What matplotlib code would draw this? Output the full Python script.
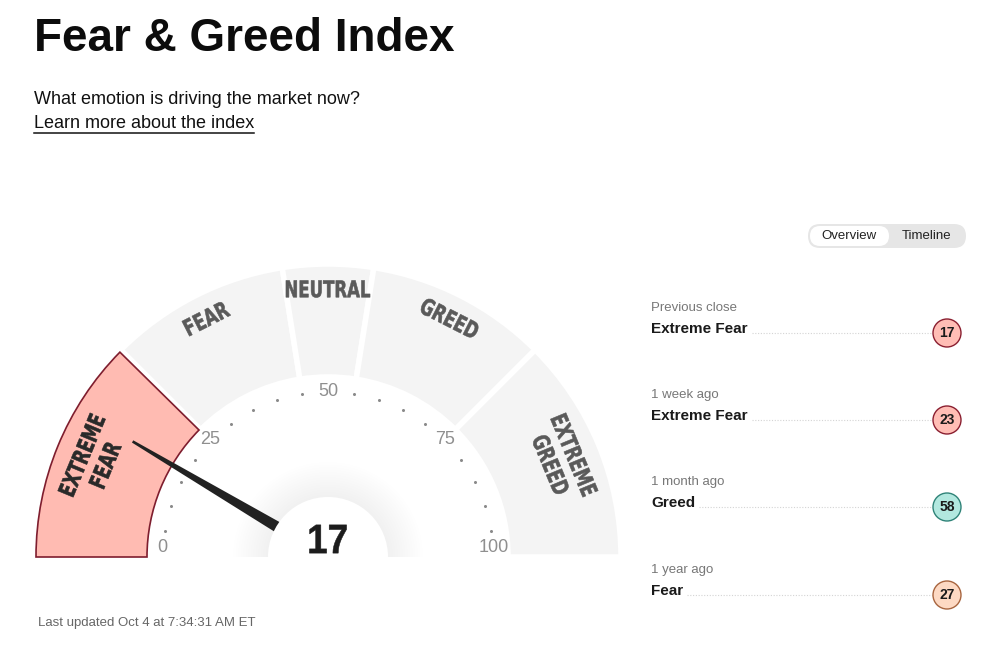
import numpy as np
import matplotlib.pyplot as plt
from matplotlib.patches import Wedge, Circle, Polygon, FancyBboxPatch, PathPatch
from matplotlib.textpath import TextPath
from matplotlib.font_manager import FontProperties
from matplotlib.transforms import Affine2D

# gauge zones
zones = ["EXTREME\nFEAR", "FEAR", "NEUTRAL", "GREED", "EXTREME\nGREED"]
bounds = [0, 25, 45, 55, 75, 100]
current = 17
scale_ticks = [0, 25, 50, 75, 100]

# history panel
hist_when = ["Previous close", "1 week ago", "1 month ago", "1 year ago"]
hist_label = ["Extreme Fear", "Extreme Fear", "Greed", "Fear"]
hist_value = [17, 23, 58, 27]

W, H = 1000, 648
fig = plt.figure(figsize=(10, 6.48), dpi=100)
ax = fig.add_axes([0, 0, 1, 1])
ax.set_xlim(0, W)
ax.set_ylim(0, H)
ax.axis("off")

SANS = ["Liberation Sans", "DejaVu Sans"]
BOLD = FontProperties(family="DejaVu Sans", weight="bold")
LBOLD = FontProperties(family="Liberation Sans", weight="bold")


def Y(y):
    return H - y


def zone_colors(v):
    if v < 25:
        return "#ffbdb5", "#8a1f30"
    if v < 45:
        return "#fdd9c3", "#a8653f"
    if v < 55:
        return "#e8e8e8", "#777777"
    if v < 75:
        return "#b2e8df", "#2f8378"
    return "#9fdcc8", "#1f6f5e"


def ang(v):
    return 180 - v * 1.8


def arc_text(s, x, y, rot, size, color, squeeze=0.72, gap=1.1, z=3, prop=BOLD):
    # condensed bold text drawn as a path
    lines = s.split("\n")
    for k, line in enumerate(lines):
        tp = TextPath((0, 0), line, size=size, prop=prop)
        bb = tp.get_extents()
        off = ((len(lines) - 1) / 2 - k) * size * gap
        tr = (Affine2D().translate(-(bb.x0 + bb.x1) / 2, -(bb.y0 + bb.y1) / 2)
              .scale(squeeze, 1).translate(0, off).rotate_deg(rot).translate(x, y))
        ax.add_patch(PathPatch(tr.transform_path(tp), facecolor=color,
                               edgecolor=color, lw=0.4, zorder=z))


# header
ax.text(34, Y(39), "Fear & Greed Index", fontsize=33, fontweight="bold",
        family=SANS, va="center", ha="left", color="#0c0c0c")
ax.text(34, Y(100), "What emotion is driving the market now?", fontsize=13,
        family=SANS, va="center", ha="left", color="#111111")
link = ax.text(34, Y(124), "Learn more about the index", fontsize=13,
               family=SANS, va="center", ha="left", color="#111111")
ax.text(38, Y(623), "Last updated Oct 4 at 7:34:31 AM ET", fontsize=9.5,
        family=SANS, va="center", ha="left", color="#666666")

# gauge
cx, cy = 328, Y(557)
r_out, r_in = 293, 180
active = next(i for i in range(len(zones)) if bounds[i] <= current < bounds[i + 1])
for i, name in enumerate(zones):
    t1, t2 = ang(bounds[i + 1]), ang(bounds[i])
    ax.add_patch(Wedge((cx, cy), r_out, t1, t2, width=r_out - r_in,
                       facecolor="#f4f4f4", edgecolor="white", lw=4, zorder=1))
    if i == active:
        ax.add_patch(Wedge((cx, cy), r_out - 1, t1 + 0.45, t2, width=r_out - r_in - 2,
                           facecolor="#ffbbb2", edgecolor="#7e1d2e", lw=1.2, zorder=2))
    mid = ang((bounds[i] + bounds[i + 1]) / 2)
    rr = 254 if "\n" in name else 268
    arc_text(name, cx + rr * np.cos(np.radians(mid)), cy + rr * np.sin(np.radians(mid)),
             mid - 90, 23, "#2a2a2a" if i == active else "#5a5a5a")

# scale labels and dots
for v in range(0, 101, 5):
    a = np.radians(ang(v))
    if v in scale_ticks:
        r = 166
        x, y = cx + r * np.cos(a), max(cy + r * np.sin(a), cy + 10)
        ax.text(x, y, str(v), ha="center", va="center", fontsize=13,
                family=SANS, color="#8f8f8f", zorder=3)
    else:
        r = 165
        ax.plot(cx + r * np.cos(a), cy + r * np.sin(a), "o", ms=2.2,
                color="#8a8a8a", mec="none", zorder=3)

# soft shadow around centre
for k in range(14):
    ax.add_patch(Wedge((cx, cy), 95 - k * 2.5, 0, 180, facecolor="#000000",
                       alpha=0.005, edgecolor="none", zorder=4))

# needle
a = np.radians(ang(current))
d = np.array([np.cos(a), np.sin(a)])
n = np.array([-d[1], d[0]])
c = np.array([cx, cy])
pts = [c + 56 * d + 5.5 * n, c + 227 * d + 1.3 * n, c + 227 * d - 1.3 * n, c + 56 * d - 5.5 * n]
ax.add_patch(Polygon(pts, closed=True, facecolor="#222222", edgecolor="none", zorder=5))

ax.add_patch(Wedge((cx, cy), 60, 0, 180, facecolor="white", edgecolor="none", zorder=6))
arc_text(str(current), cx, Y(539), 0, 41, "#1c1c1c", squeeze=0.9, z=7, prop=LBOLD)

# toggle
ax.add_patch(FancyBboxPatch((808, Y(248)), 158, 24, boxstyle="round,pad=0,rounding_size=12",
                            facecolor="#e6e6e6", edgecolor="none"))
ax.add_patch(FancyBboxPatch((810, Y(246)), 79, 20, boxstyle="round,pad=0,rounding_size=10",
                            facecolor="white", edgecolor="none"))
ax.text(849, Y(236), "Overview", ha="center", va="center", fontsize=9.5, family=SANS, color="#222222")
ax.text(927, Y(236), "Timeline", ha="center", va="center", fontsize=9.5, family=SANS, color="#222222")

# history rows
fig.canvas.draw()
rend = fig.canvas.get_renderer()
row_y = [308, 395, 482, 570]
for yy, when, lab, val in zip(row_y, hist_when, hist_label, hist_value):
    ax.text(651, Y(yy), when, ha="left", va="center", fontsize=9.5, family=SANS, color="#777777")
    t = ax.text(651, Y(yy + 21), lab, ha="left", va="center", fontsize=11,
                fontweight="bold", family=SANS, color="#1a1a1a")
    bb = t.get_window_extent(renderer=rend)
    ax.plot([bb.x1 + 4, 932], [Y(yy + 25), Y(yy + 25)], ls=(0, (1, 1.5)), lw=0.8, color="#d4d4d4")
    fc, ec = zone_colors(val)
    ax.add_patch(Circle((947, Y(yy + 25)), 14, facecolor=fc, edgecolor=ec, lw=1.0, zorder=3))
    ax.text(947, Y(yy + 25), str(val), ha="center", va="center", fontsize=10,
            fontweight="bold", family=SANS, color="#1a1a1a", zorder=4)

bb = link.get_window_extent(renderer=rend)
ax.plot([bb.x0, bb.x1], [Y(133), Y(133)], color="#111111", lw=1.1)

fig.savefig("out.png", dpi=100, facecolor="white")
